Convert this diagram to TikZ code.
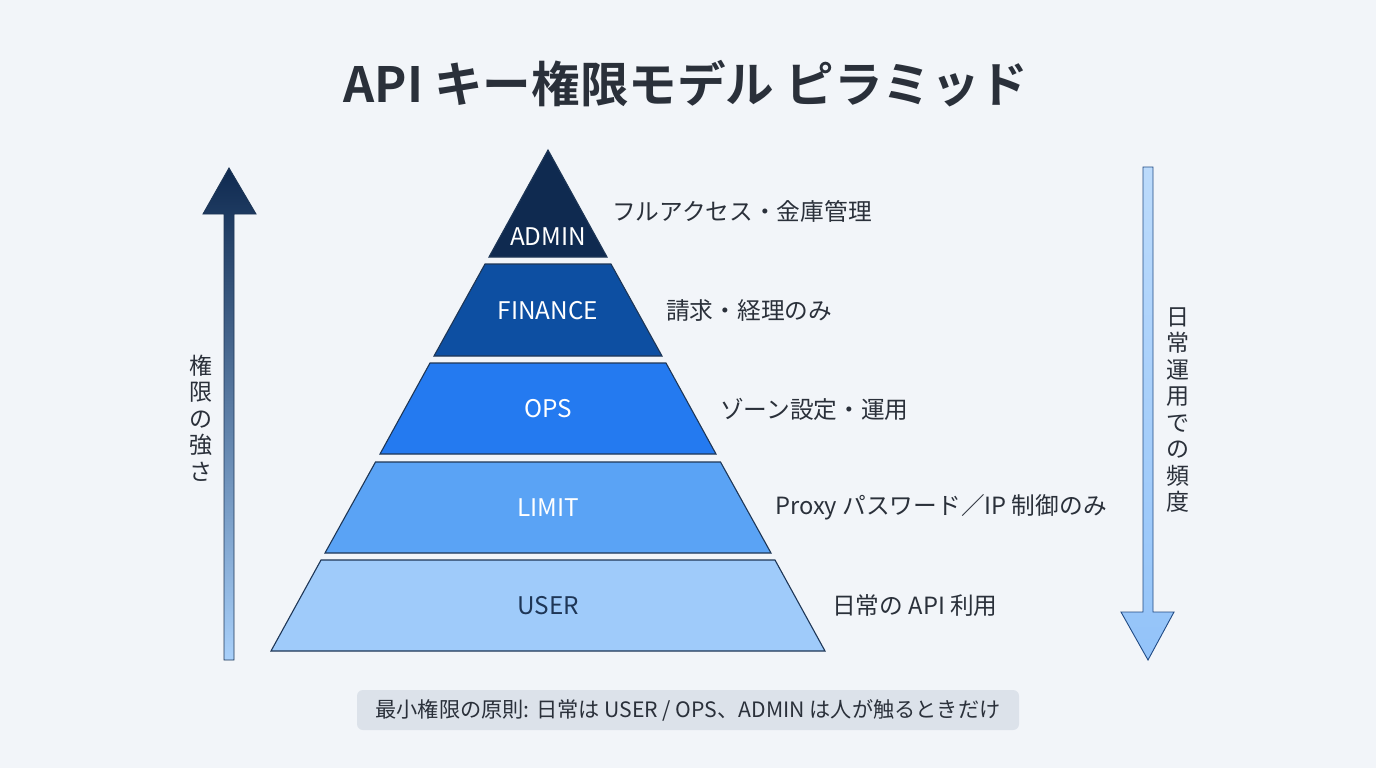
\documentclass[tikz,border=0pt]{standalone}
\usepackage{fontspec}
\setmainfont{Noto Sans CJK JP}[BoldFont={Noto Sans CJK JP Bold}]
\definecolor{bgc}{HTML}{F2F5F9}
\definecolor{txt}{HTML}{2A303A}
\definecolor{edge}{HTML}{1E3656}
\definecolor{cadmin}{HTML}{0F2A50}
\definecolor{cfin}{HTML}{0D4FA2}
\definecolor{cops}{HTML}{247AF0}
\definecolor{climit}{HTML}{5AA3F5}
\definecolor{cuser}{HTML}{9FCBFA}
\definecolor{boxc}{HTML}{DCE2EA}
\begin{document}
\begin{tikzpicture}[x=1pt,y=-1pt,
  layer/.style={draw=edge, line width=1.1pt, line join=miter},
  lvl/.style={font=\fontsize{24.3}{27}\selectfont, text=white, inner sep=0pt},
  side/.style={font=\fontsize{23.7}{27}\selectfont, text=txt, anchor=west, inner sep=0pt},
  vert/.style={font=\fontsize{23}{26.5}\selectfont, text=txt, align=center, inner sep=0pt}]
\fill[bgc] (0,0) rectangle (1376,768);
\useasboundingbox (0,0) rectangle (1376,768);
% title
\node[font=\bfseries\fontsize{48.6}{54}\selectfont, text=txt] (title) at (686,84) {API キー権限モデル ピラミッド};
% pyramid layers
\path[layer, fill=cadmin] (548,150) -- (607,257) -- (489,257) -- cycle;
\path[layer, fill=cfin] (485,264) -- (611,264) -- (662,356) -- (434,356) -- cycle;
\path[layer, fill=cops] (430,363) -- (666,363) -- (716,454) -- (380,454) -- cycle;
\path[layer, fill=climit] (375.5,462) -- (720.5,462) -- (771,553) -- (325,553) -- cycle;
\path[layer, fill=cuser] (321,560) -- (775,560) -- (825,651) -- (271,651) -- cycle;
\node[lvl] (admin) at (548,237) {ADMIN};
\node[lvl] (fin) at (548,311) {FINANCE};
\node[lvl] (ops) at (548,409) {OPS};
\node[lvl] (limit) at (548,508) {LIMIT};
\node[lvl, text=edge] (user) at (548,606) {USER};
% side labels
\node[side] (ladmin) at (612,211) {フルアクセス・金庫管理};
\node[side] (lfin) at (666,311) {請求・経理のみ};
\node[side] (lops) at (720,409) {ゾーン設定・運用};
\node[side] (llimit) at (775,507) {Proxy パスワード／IP 制御のみ};
\node[side] (luser) at (832,606) {日常の API 利用};
% left arrow
\path[draw=edge, line width=0.9pt, top color=cadmin, bottom color=cuser!90!white]
  (224,660) -- (224,214) -- (203,214) -- (229,168) -- (256,214) -- (234,214) -- (234,660) -- cycle;
\node[vert] (lstr) at (201,418) {権\\限\\の\\強\\さ};
% right arrow
\path[draw=edge!70!cops, line width=0.9pt, top color=cuser!70!white, bottom color=cuser!90!cops]
  (1143,167) -- (1153,167) -- (1153,612) -- (1174,612) -- (1148,660) -- (1121,612) -- (1143,612) -- cycle;
\node[vert] (rfreq) at (1178,410) {日\\常\\運\\用\\で\\の\\頻\\度};
% bottom box
\node[fill=boxc, rounded corners=6pt, minimum width=662pt, minimum height=40pt, inner sep=0pt,
  font=\fontsize{21.2}{24}\selectfont, text=txt] (note) at (688,710)
  {最小権限の原則: 日常は USER / OPS、ADMIN は人が触るときだけ};
\end{tikzpicture}
\end{document}
